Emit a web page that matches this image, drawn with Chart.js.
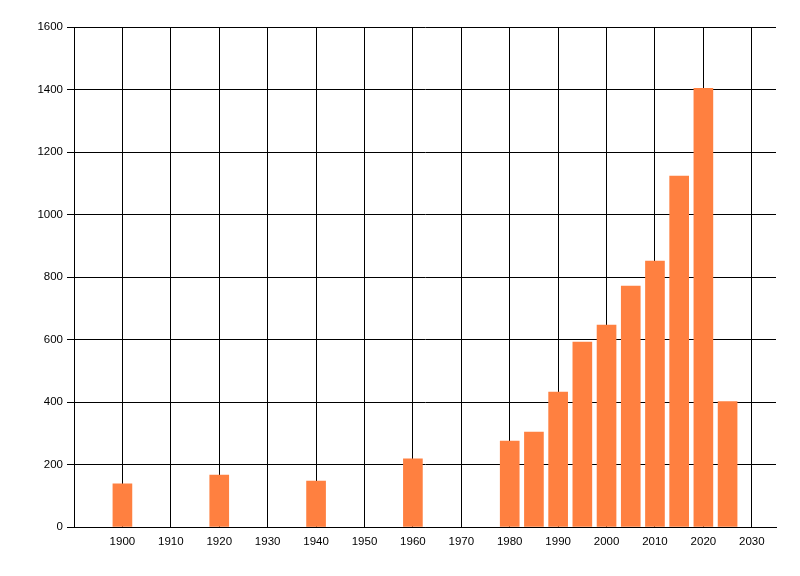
<!DOCTYPE html>
<html>
<head>
<meta charset="utf-8">
<script src="https://cdn.jsdelivr.net/npm/chart.js@4/dist/chart.umd.min.js"></script>
<style>
html,body{margin:0;padding:0;background:#fff;}
#wrap{width:800px;height:576px;}
</style>
</head>
<body>
<div id="wrap"><canvas id="c" width="800" height="576"></canvas></div>
<script>
const years = [1900, 1920, 1940, 1960, 1980, 1985, 1990, 1995, 2000, 2005, 2010, 2015, 2020, 2025];
const values = [138, 166, 147, 218, 275, 304, 432, 592, 646, 771, 851, 1123, 1404, 401];
const xTicks = [1900, 1910, 1920, 1930, 1940, 1950, 1960, 1970, 1980, 1990, 2000, 2010, 2020, 2030];
const yTicks = [0, 200, 400, 600, 800, 1000, 1200, 1400, 1600];

const font = {family: 'Liberation Sans', size: 11.5};

new Chart(document.getElementById('c'), {
  type: 'bar',
  data: {
    datasets: [{
      data: years.map((y, i) => ({x: y, y: values[i]})),
      backgroundColor: '#ff8040',
      borderWidth: 0,
      barThickness: 19
    }]
  },
  options: {
    responsive: false,
    animation: false,
    devicePixelRatio: 1,
    layout: {padding: {top: 27, right: 24, left: 0, bottom: 0}},
    plugins: {legend: {display: false}, tooltip: {enabled: false}},
    scales: {
      x: {
        type: 'linear',
        min: 1890,
        max: 2035,
        offset: false,
        grid: {offset: false, color: '#000', lineWidth: 1, drawTicks: false},
        border: {display: true, color: '#000', width: 1},
        ticks: {color: '#000', font: font, padding: 8, maxRotation: 0, autoSkip: false,
                callback: v => String(v)},
        afterBuildTicks: s => { s.ticks = xTicks.map(v => ({value: v})); },
        afterFit: s => { s.height = 49; }
      },
      y: {
        type: 'linear',
        min: 0,
        max: 1600,
        grid: {color: '#000', lineWidth: 1, drawTicks: true, tickLength: 7},
        border: {display: true, color: '#000', width: 1},
        ticks: {color: '#000', font: font, padding: 4, callback: v => String(v)},
        afterBuildTicks: s => { s.ticks = yTicks.map(v => ({value: v})); },
        afterFit: s => { s.width = 74; }
      }
    }
  }
});
</script>
</body>
</html>
